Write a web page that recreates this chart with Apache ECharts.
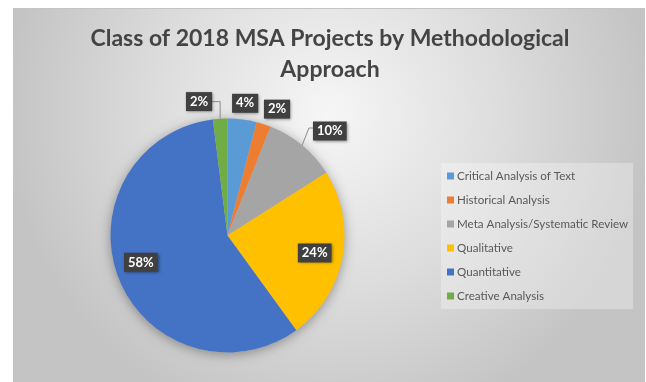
<!DOCTYPE html>
<html>
<head>
<meta charset="utf-8">
<script src="https://cdn.jsdelivr.net/npm/echarts@6/dist/echarts.min.js"></script>
<style>
  html, body { margin: 0; padding: 0; background: #ffffff; }
  #chart { width: 646px; height: 382px; }
</style>
</head>
<body>
<div id="chart"></div>
<script>
// Methodological approach of the 2018 MSA projects (percent of projects)
const categories = [
  'Critical Analysis of Text',
  'Historical Analysis',
  'Meta Analysis/Systematic Review',
  'Qualitative',
  'Quantitative',
  'Creative Analysis'
];
const shares = [4, 2, 10, 24, 58, 2];
const sliceColors = ['#5B9BD5', '#ED7D31', '#A5A5A5', '#FFC000', '#4472C4', '#70AD47'];

// Callout placement around the pie: angular nudge (deg) and radial reach (x radius)
const calloutPlacement = [
  { turn: 0.4, reach: 1.14, line: false },
  { turn: 3.4, reach: 1.16, line: false },
  { turn: 4.8, reach: 1.25, line: 'corner' },
  { turn: 0.5, reach: 0.76, line: false },
  { turn: 4.4, reach: 0.775, line: false },
  { turn: -8.4, reach: 1.17, line: 'elbow' }
];

const pieCenter = [227.5, 235.5];
const pieRadius = 117;
const total = shares.reduce((a, b) => a + b, 0);

function midAngle(i) {
  let before = 0;
  for (let k = 0; k < i; k++) before += shares[k];
  return (before + shares[i] / 2) / total * 360;
}
function polar(deg, r) {
  const a = deg * Math.PI / 180;
  return [pieCenter[0] + r * Math.sin(a), pieCenter[1] - r * Math.cos(a)];
}

const chart = echarts.init(document.getElementById('chart'), null, { renderer: 'canvas' });

const option = {
  animation: false,
  graphic: [
    {
      type: 'rect',
      z: -10,
      silent: true,
      shape: { x: 13, y: 8, width: 632, height: 380 },
      style: {
        fill: new echarts.graphic.RadialGradient(0.5, 0.28, 0.85, [
          { offset: 0, color: '#f6f6f6' },
          { offset: 0.55, color: '#dcdcdc' },
          { offset: 1, color: '#c4c4c4' }
        ])
      }
    },
    {
      type: 'line',
      z: -9,
      silent: true,
      shape: { x1: 13, y1: 8.5, x2: 645, y2: 8.5 },
      style: { stroke: '#c4c4c4', lineWidth: 1 }
    }
  ],
  title: {
    text: 'Class of 2018 MSA Projects by Methodological\nApproach',
    left: 330,
    textAlign: 'center',
    top: 23,
    padding: 0,
    textStyle: {
      fontFamily: 'Lato',
      fontSize: 23,
      fontWeight: 'bold',
      color: '#444444',
      lineHeight: 31
    }
  },
  legend: {
    orient: 'vertical',
    left: 441,
    top: 163,
    padding: [6, 5, 6, 6],
    backgroundColor: 'rgba(255,255,255,0.3)',
    data: categories,
    icon: 'rect',
    itemWidth: 7,
    itemHeight: 7,
    itemGap: 10,
    selectedMode: false,
    textStyle: {
      fontFamily: 'Lato',
      fontSize: 11.6,
      color: '#595959',
      lineHeight: 14,
      padding: [0, 0, 0, -2]
    }
  },
  series: [
    {
      // soft drop shadow beneath the pie
      type: 'pie',
      silent: true,
      center: pieCenter,
      radius: pieRadius,
      z: 1,
      label: { show: false },
      labelLine: { show: false },
      itemStyle: {
        color: '#bdbdbd',
        shadowBlur: 12,
        shadowColor: 'rgba(0,0,0,0.35)',
        shadowOffsetY: 2
      },
      data: [{ value: 1, name: '' }]
    },
    {
      type: 'pie',
      center: pieCenter,
      radius: pieRadius,
      startAngle: 90,
      clockwise: true,
      avoidLabelOverlap: false,
      silent: true,
      z: 2,
      itemStyle: { borderWidth: 0 },
      label: {
        show: true,
        position: 'outside',
        formatter: '{c}%',
        fontFamily: 'Lato',
        fontSize: 13,
        fontWeight: 'bold',
        color: '#ffffff',
        backgroundColor: '#404040',
        padding: [3, 4, 1, 4],
        lineHeight: 15,
        shadowBlur: 3,
        shadowColor: 'rgba(0,0,0,0.45)',
        shadowOffsetX: 1,
        shadowOffsetY: 1
      },
      labelLine: {
        show: true,
        length: 8,
        length2: 8,
        lineStyle: { color: '#8c8c8c', width: 1 }
      },
      labelLayout: function (params) {
        const i = params.dataIndex;
        const place = calloutPlacement[i];
        const mid = midAngle(i);
        const p = polar(mid + place.turn, pieRadius * place.reach);
        const w = params.labelRect.width;
        const out = { x: p[0], y: p[1], align: 'center', verticalAlign: 'middle' };
        const edge = polar(mid, pieRadius);
        if (place.line === 'elbow') {
          out.labelLinePoints = [edge, [edge[0], p[1]], [p[0] + w / 2, p[1]]];
        } else if (place.line === 'corner') {
          const left = p[0] - w / 2;
          out.labelLinePoints = [edge, [left - 4, p[1] - 3], [left, p[1] - 3]];
        }
        return out;
      },
      data: categories.map((name, i) => ({
        name: name,
        value: shares[i],
        itemStyle: { color: sliceColors[i] },
        labelLine: { show: !!calloutPlacement[i].line }
      }))
    }
  ]
};

chart.setOption(option);
</script>
</body>
</html>
